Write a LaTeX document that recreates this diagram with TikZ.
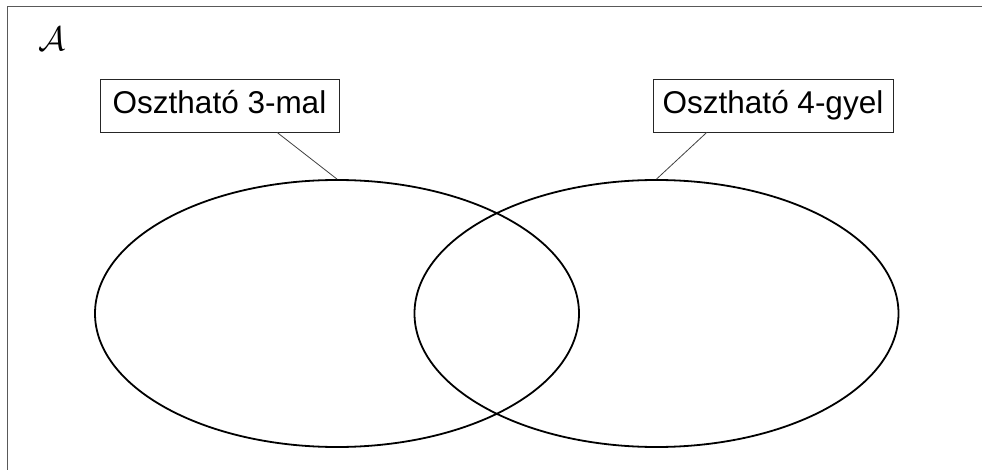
\documentclass[tikz,border=0pt]{standalone}
\usepackage{fontspec}
\setmainfont{Liberation Sans}
\usetikzlibrary{shapes.geometric,calc}
\tikzset{
  setline/.style={line width=1.8pt, draw=black, ellipse, minimum width=484pt, minimum height=267pt, inner sep=0pt},
  labelbox/.style={draw=black!85, line width=0.8pt, text height=35pt, text depth=18pt, inner ysep=0pt,
                   inner xsep=0pt, font=\fontsize{31.5}{33}\selectfont},
  leader/.style={draw=black!75, line width=0.8pt}
}
\begin{document}
\begin{tikzpicture}[x=1pt,y=-1pt]
  \useasboundingbox (0,0) rectangle (982,470);
  % universe frame
  \begin{scope}
    \clip (0,0) rectangle (982,470);
    \draw[draw=black!65, line width=1.3pt] (7.5,490) -- (7.5,6.5) -- (1000,6.5);
  \end{scope}
  \node[inner sep=0pt] (U) at (52,38.5) {\scalebox{3.4}{$\mathcal{A}$}};
  % the two sets
  \node[setline] (E1) at (337,313.5) {};
  \node[setline] (E2) at (656.5,313.5) {};
  % labels
  \node[labelbox, minimum width=239pt] (L1) at (219.5,105.5) {Osztható 3-mal};
  \node[labelbox, minimum width=240pt] (L2) at (773,105.5) {Osztható 4-gyel};
  \coordinate (A1) at ($(L1.south west)!0.74!(L1.south east)$);
  \coordinate (A2) at ($(L2.south west)!0.225!(L2.south east)$);
  \draw[leader] (A1) -- (E1.north);
  \draw[leader] (A2) -- (E2.north);
\end{tikzpicture}
\end{document}
